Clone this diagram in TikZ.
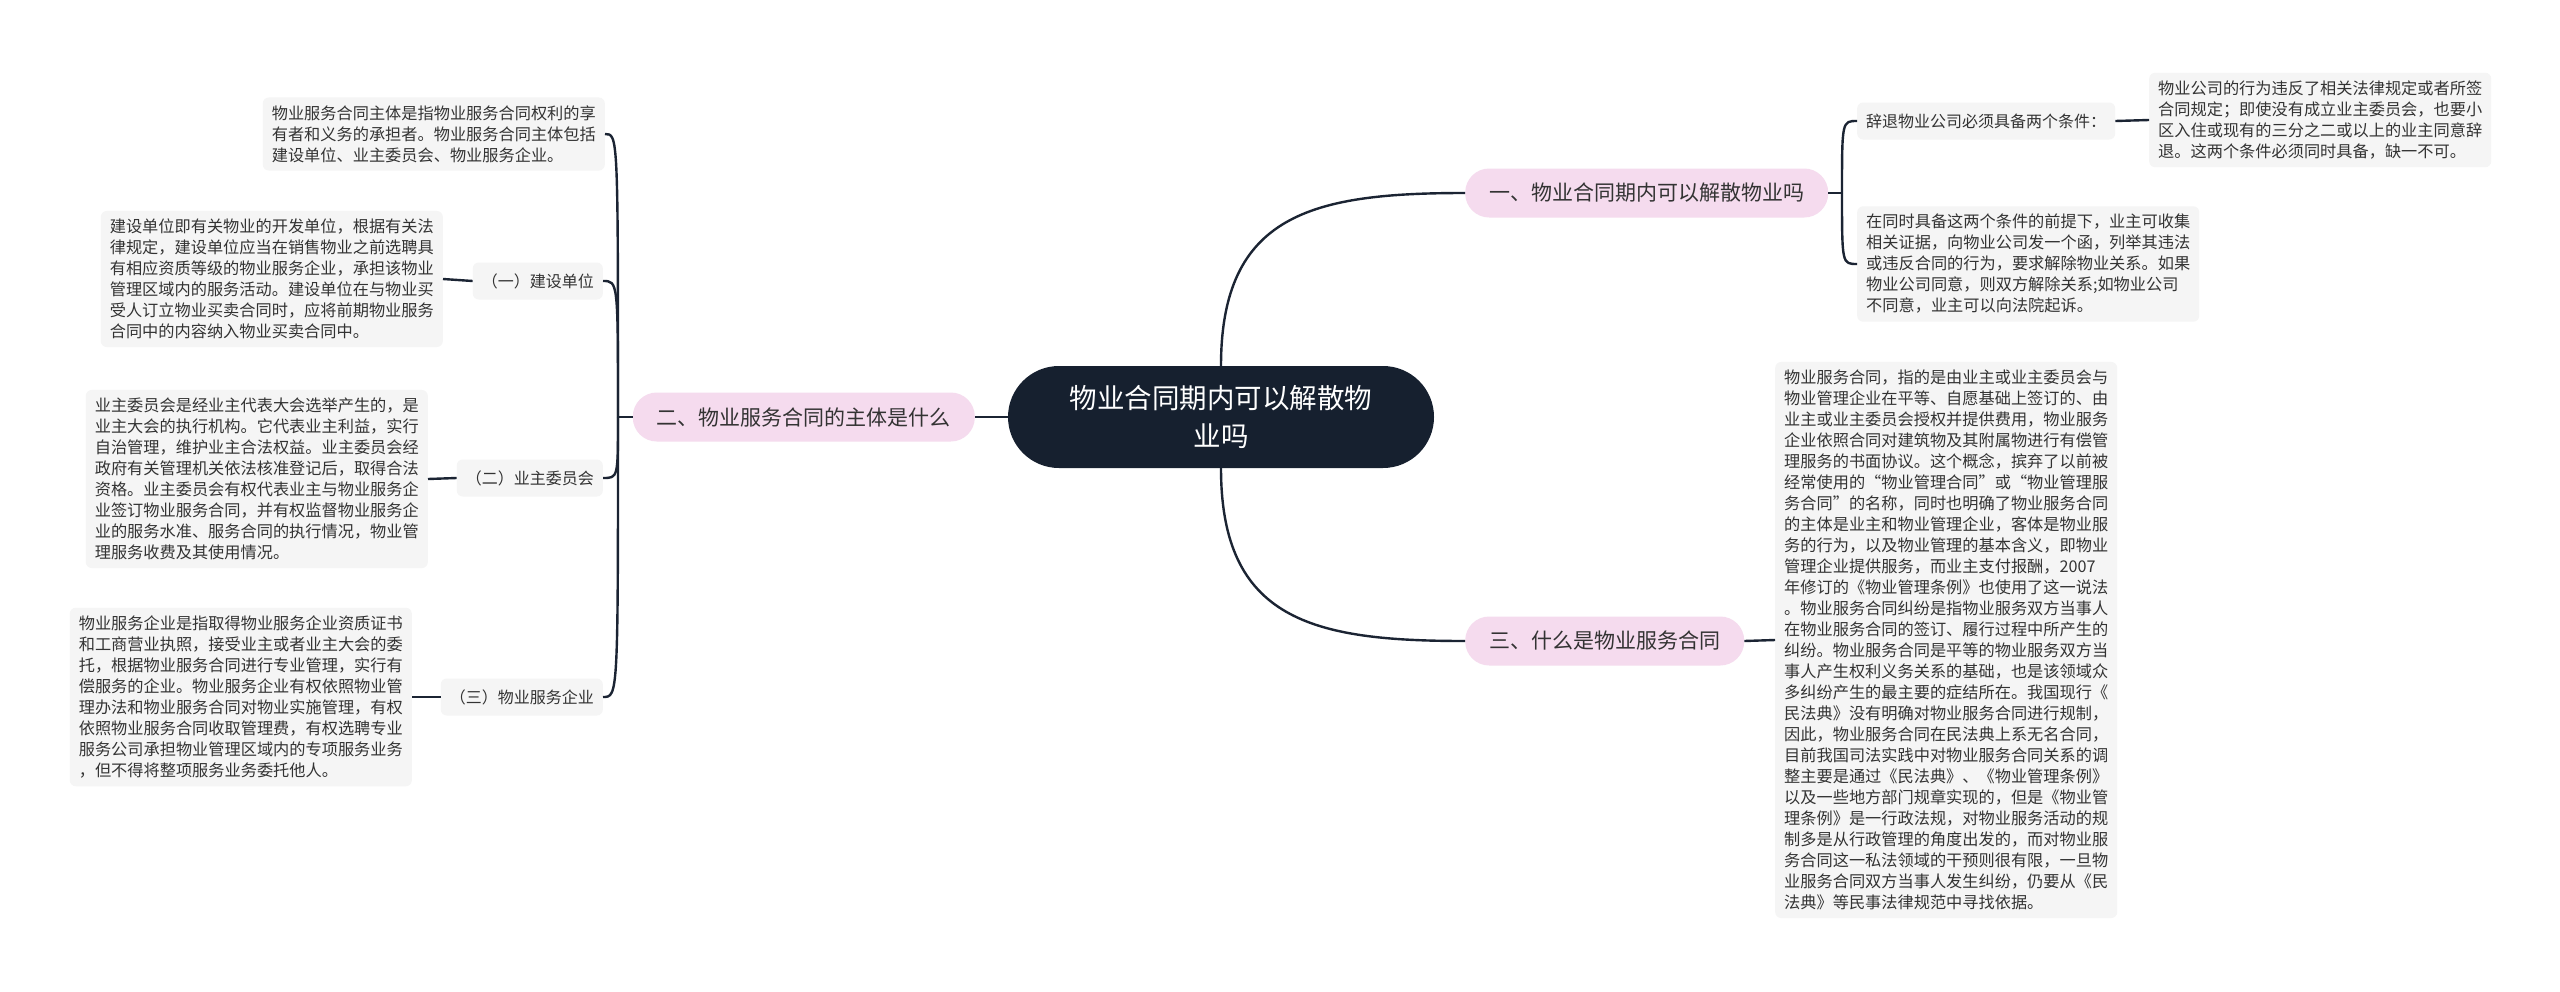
\documentclass[tikz,border=0pt]{standalone}
\usepackage{fontspec}
\usepackage{tikz}
\newfontfamily\cjk{Noto Sans CJK SC}
\definecolor{hubcol}{HTML}{16202F}
\definecolor{topiccol}{HTML}{F5DBEE}
\definecolor{notecol}{HTML}{F5F5F5}
\definecolor{linkcol}{HTML}{1B2433}
\definecolor{inkcol}{HTML}{333333}

\begin{document}
\begin{tikzpicture}[x=1pt, y=1pt,
  hub/.style={fill=hubcol, text=white, rounded corners=51pt, minimum width=426pt, minimum height=102pt, align=center, font=\cjk\fontsize{27.5}{38}\selectfont},
  topic/.style={fill=topiccol, text=inkcol, rounded corners=24pt, minimum height=49pt, inner xsep=24pt, font=\cjk\fontsize{21}{25}\selectfont},
  tag/.style={fill=notecol, text=inkcol, rounded corners=6pt, minimum height=37pt, inner xsep=9pt, font=\cjk\fontsize{16}{21}\selectfont},
  note/.style={fill=notecol, text=inkcol, rounded corners=6pt, inner xsep=9pt, inner ysep=8pt, align=left, font=\cjk\fontsize{16.2}{21}\selectfont},
  link/.style={draw=linkcol, line width=2.4pt}]
  \fill[white] (0,0) rectangle (2560,-991);
  \useasboundingbox (0,0) rectangle (2560,-991);

  % centre and main topics
  \node[hub] (hub) at (1221,-417) {物业合同期内可以解散物\\业吗};
  \node[topic, anchor=west] (t1) at (1465,-193) {一、物业合同期内可以解散物业吗};
  \node[topic, anchor=east] (t2) at (975,-417) {二、物业服务合同的主体是什么};
  \node[topic, anchor=west] (t3) at (1465,-641) {三、什么是物业服务合同};

  % left side
  \coordinate (fork2) at (618,-417);
  \node[note, anchor=east] (subject) at (605,-134) {物业服务合同主体是指物业服务合同权利的享\\有者和义务的承担者。物业服务合同主体包括\\建设单位、业主委员会、物业服务企业。};
  \node[tag, anchor=east] (builder) at (603,-281) {（一）建设单位};
  \node[tag, anchor=east] (committee) at (603,-478) {（二）业主委员会};
  \node[tag, anchor=east] (firm) at (603,-697) {（三）物业服务企业};
  \node[note, anchor=east] (builderinfo) at (443,-279) {建设单位即有关物业的开发单位，根据有关法\\律规定，建设单位应当在销售物业之前选聘具\\有相应资质等级的物业服务企业，承担该物业\\管理区域内的服务活动。建设单位在与物业买\\受人订立物业买卖合同时，应将前期物业服务\\合同中的内容纳入物业买卖合同中。};
  \node[note, anchor=east] (committeeinfo) at (428,-479) {业主委员会是经业主代表大会选举产生的，是\\业主大会的执行机构。它代表业主利益，实行\\自治管理，维护业主合法权益。业主委员会经\\政府有关管理机关依法核准登记后，取得合法\\资格。业主委员会有权代表业主与物业服务企\\业签订物业服务合同，并有权监督物业服务企\\业的服务水准、服务合同的执行情况，物业管\\理服务收费及其使用情况。};
  \node[note, anchor=east] (firminfo) at (412,-697) {物业服务企业是指取得物业服务企业资质证书\\和工商营业执照，接受业主或者业主大会的委\\托，根据物业服务合同进行专业管理，实行有\\偿服务的企业。物业服务企业有权依照物业管\\理办法和物业服务合同对物业实施管理，有权\\依照物业服务合同收取管理费，有权选聘专业\\服务公司承担物业管理区域内的专项服务业务\\，但不得将整项服务业务委托他人。};

  % right side
  \coordinate (fork1) at (1842,-193);
  \node[tag, anchor=west] (terms) at (1857,-121) {辞退物业公司必须具备两个条件：};
  \node[note, anchor=west] (termsinfo) at (2149,-120) {物业公司的行为违反了相关法律规定或者所签\\合同规定；即使没有成立业主委员会，也要小\\区入住或现有的三分之二或以上的业主同意辞\\退。这两个条件必须同时具备，缺一不可。};
  \node[note, anchor=west] (suit) at (1857,-264) {在同时具备这两个条件的前提下，业主可收集\\相关证据，向物业公司发一个函，列举其违法\\或违反合同的行为，要求解除物业关系。如果\\物业公司同意，则双方解除关系;如物业公司\\不同意，业主可以向法院起诉。};
  \node[note, anchor=west] (meaning) at (1775,-640) {物业服务合同，指的是由业主或业主委员会与\\物业管理企业在平等、自愿基础上签订的、由\\业主或业主委员会授权并提供费用，物业服务\\企业依照合同对建筑物及其附属物进行有偿管\\理服务的书面协议。这个概念，摈弃了以前被\\经常使用的“物业管理合同”或“物业管理服\\务合同”的名称，同时也明确了物业服务合同\\的主体是业主和物业管理企业，客体是物业服\\务的行为，以及物业管理的基本含义，即物业\\管理企业提供服务，而业主支付报酬，2007\\年修订的《物业管理条例》也使用了这一说法\\。物业服务合同纠纷是指物业服务双方当事人\\在物业服务合同的签订、履行过程中所产生的\\纠纷。物业服务合同是平等的物业服务双方当\\事人产生权利义务关系的基础，也是该领域众\\多纠纷产生的最主要的症结所在。我国现行《\\民法典》没有明确对物业服务合同进行规制，\\因此，物业服务合同在民法典上系无名合同，\\目前我国司法实践中对物业服务合同关系的调\\整主要是通过《民法典》、《物业管理条例》\\以及一些地方部门规章实现的，但是《物业管\\理条例》是一行政法规，对物业服务活动的规\\制多是从行政管理的角度出发的，而对物业服\\务合同这一私法领域的干预则很有限，一旦物\\业服务合同双方当事人发生纠纷，仍要从《民\\法典》等民事法律规范中寻找依据。};

  % connectors
  \draw[link] (hub.west) -- (t2.east);
  \draw[link] (hub.north) to[out=90, in=180, looseness=1.3] (t1.west);
  \draw[link] (hub.south) to[out=-90, in=180, looseness=1.3] (t3.west);
  \draw[link] (t2.west) -- (fork2);
  \foreach \n in {subject,builder,committee,firm}
    \draw[link] (fork2) .. controls (fork2 |- \n.east) .. (\n.east);
  \draw[link] (builder.west) -- (builderinfo.east);
  \draw[link] (committee.west) -- (committeeinfo.east);
  \draw[link] (firm.west) -- (firminfo.east);
  \draw[link] (t1.east) -- (fork1);
  \foreach \n in {terms,suit}
    \draw[link] (fork1) .. controls (fork1 |- \n.west) .. (\n.west);
  \draw[link] (terms.east) -- (termsinfo.west);
  \draw[link] (t3.east) -- (meaning.west);
\end{tikzpicture}
\end{document}
